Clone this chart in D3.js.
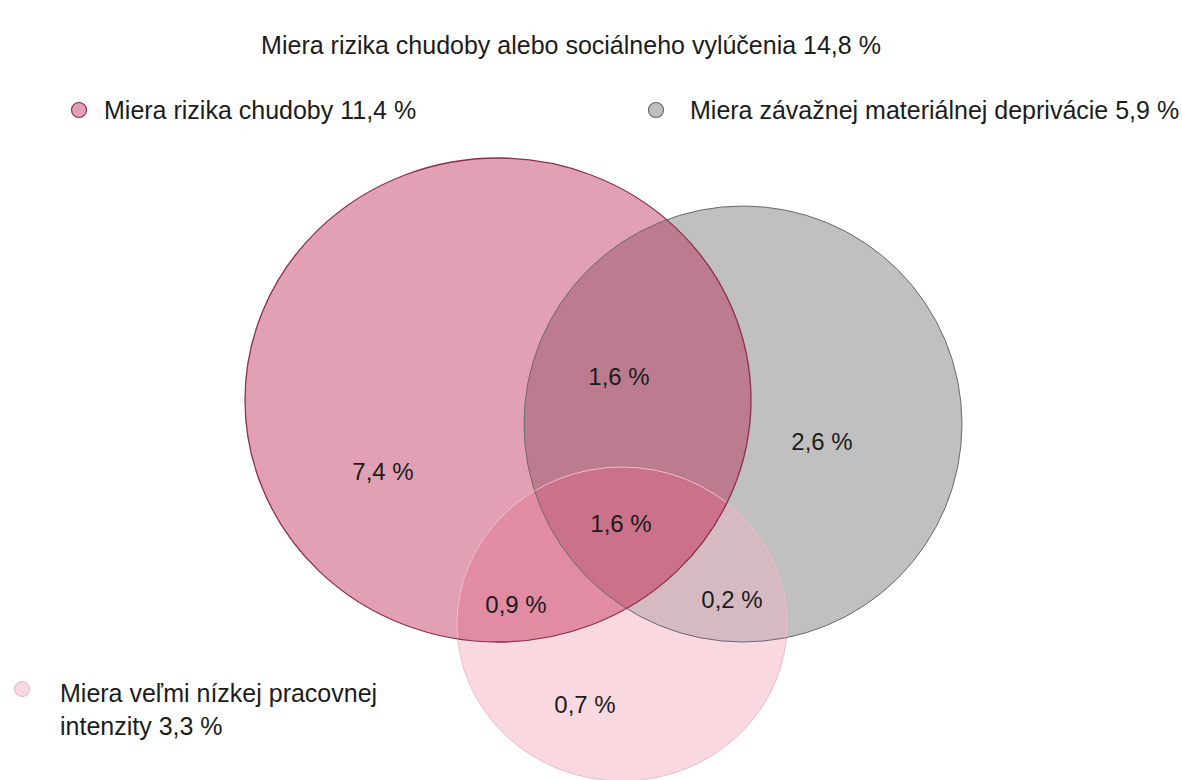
<!DOCTYPE html>
<html>
<head>
<meta charset="utf-8">
<script src="https://cdn.jsdelivr.net/npm/d3@7"></script>
<style>
  html, body { margin: 0; padding: 0; background: #ffffff; }
  svg { display: block; }
  text { font-family: "Liberation Sans", Arial, sans-serif; fill: #1c1c1c; }
</style>
</head>
<body>
<svg id="chart" width="1182" height="780"></svg>
<script>
// ---- data ----
const totalName = "Miera rizika chudoby alebo sociálneho vylúčenia";
const totalValue = 14.8;
const setKeys = ["P", "G", "L"];
const setNames = ["Miera rizika chudoby", "Miera závažnej materiálnej deprivácie", "Miera veľmi nízkej pracovnej intenzity"];
const setValues = [11.4, 5.9, 3.3];
const regionKeys = ["P", "G", "L", "PG", "PL", "GL", "PGL"];
const regionValues = [7.4, 2.6, 0.7, 1.6, 0.9, 0.2, 1.6];

// ---- layout & style (not data) ----
const shapes = {
  P: { cx: 498, cy: 400, rx: 253, ry: 242 },
  G: { cx: 743, cy: 424, rx: 219, ry: 218 },
  L: { cx: 622, cy: 624, rx: 165, ry: 157 }
};
const regionFill = { P: "#e1a0b4", G: "#c0c0c0", L: "#f9d8e0", PG: "#bc7b8e", PL: "#e18ca3", GL: "#d6bac2", PGL: "#cb7189" };
const setStroke = { P: "#8a3050", G: "#6a6a6a", L: "#ebbcc9" };
const setStrokeW = { P: 1.3, G: 1, L: 1 };
const labelPos = {
  P: [383, 480], G: [822, 450], L: [585, 713],
  PG: [619, 385], PL: [516, 613], GL: [732, 608], PGL: [621, 532]
};
const legendPos = [
  { mx: 79, my: 110, tx: 104, ty: 119, lines: 1 },
  { mx: 656, my: 110, tx: 690, ty: 119, lines: 1 },
  { mx: 22, my: 689, tx: 60, ty: 702, lines: 2 }
];

const locale = d3.formatLocale({ decimal: ",", thousands: "\u00a0", grouping: [3], currency: ["", " €"] });
const fmt = v => locale.format(".1f")(v) + " %";

const svg = d3.select("#chart");
const defs = svg.append("defs");
setKeys.forEach(k => {
  defs.append("clipPath").attr("id", "clip-" + k)
    .append("ellipse").attr("cx", shapes[k].cx).attr("cy", shapes[k].cy)
    .attr("rx", shapes[k].rx).attr("ry", shapes[k].ry);
});

function ell(sel, k) {
  return sel.append("ellipse").attr("cx", shapes[k].cx).attr("cy", shapes[k].cy)
    .attr("rx", shapes[k].rx).attr("ry", shapes[k].ry);
}

const fills = svg.append("g");
["P", "G", "L"].forEach(k => ell(fills, k).attr("fill", regionFill[k]));
[["PG", "P", "G"], ["PL", "P", "L"], ["GL", "G", "L"]].forEach(([r, a, b]) => {
  const g = fills.append("g").attr("clip-path", `url(#clip-${b})`);
  ell(g, a).attr("fill", regionFill[r]);
});
{
  const g1 = fills.append("g").attr("clip-path", "url(#clip-G)");
  const g2 = g1.append("g").attr("clip-path", "url(#clip-L)");
  ell(g2, "P").attr("fill", regionFill.PGL);
}
const outlines = svg.append("g").attr("fill", "none");
["L", "G", "P"].forEach(k => ell(outlines, k).attr("stroke", setStroke[k]).attr("stroke-width", setStrokeW[k]));

svg.append("g").selectAll("text").data(regionKeys).join("text")
  .attr("x", k => labelPos[k][0]).attr("y", k => labelPos[k][1])
  .attr("text-anchor", "middle").attr("font-size", 24)
  .text((k, i) => fmt(regionValues[i]));

svg.append("text").attr("x", 571).attr("y", 54).attr("text-anchor", "middle")
  .attr("font-size", 25).text(`${totalName} ${fmt(totalValue)}`);

setKeys.forEach((k, i) => {
  const p = legendPos[i];
  svg.append("circle").attr("cx", p.mx).attr("cy", p.my).attr("r", 7.5)
    .attr("fill", regionFill[k]).attr("stroke", setStroke[k]).attr("stroke-width", 1.2);
  const t = svg.append("text").attr("x", p.tx).attr("y", p.ty).attr("font-size", 25);
  const full = `${setNames[i]} ${fmt(setValues[i])}`;
  if (p.lines === 1) {
    t.text(full);
  } else {
    t.append("tspan").attr("x", p.tx).attr("dy", 0).text("Miera veľmi nízkej pracovnej");
    t.append("tspan").attr("x", p.tx).attr("dy", 33).text(full.replace("Miera veľmi nízkej pracovnej ", ""));
  }
});
</script>
</body>
</html>
